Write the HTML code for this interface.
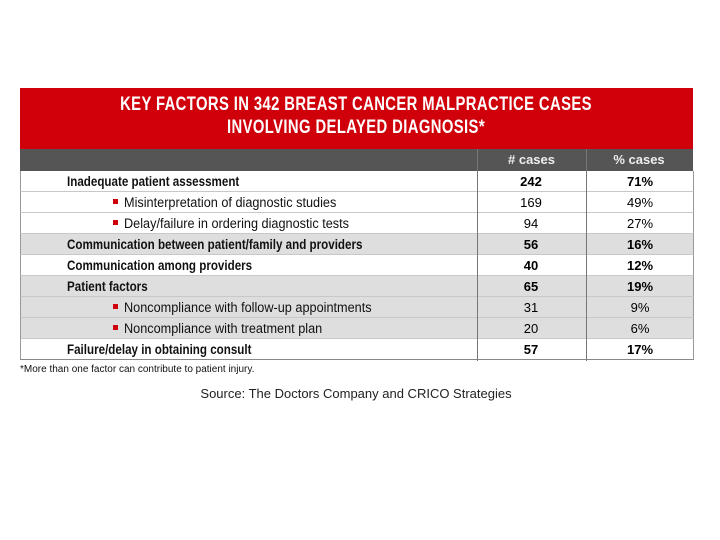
<!DOCTYPE html>
<html><head><style>
body{margin:0;width:720px;height:540px;background:#fff;font-family:"Liberation Sans",sans-serif;position:relative;overflow:hidden}
.a{position:absolute;white-space:nowrap}
#red{left:20px;top:88px;width:673px;height:61px;background:#d0000a}
#gry{left:20px;top:149px;width:673px;height:22px;background:#555}
.t{color:#fff;font-weight:bold;font-size:19px;left:356px;transform:translateX(-50%) scaleX(0.78);letter-spacing:0.5px}
.row{position:absolute;left:20px;width:672px;height:20px;border-bottom:1px solid #c8c8c8;border-left:1px solid #999;border-right:1px solid #999}
.sh{background:#dedede}
.tx{position:absolute;top:3px;font-size:13.5px;color:#111;transform-origin:left center}
.b{font-weight:bold;transform:scaleX(0.86)}
.n{transform:scaleX(0.94)}
.c1{position:absolute;left:455px;width:110px;text-align:center;top:3px;font-size:13px}
.c2{position:absolute;left:566px;width:106px;text-align:center;top:3px;font-size:13px}
.bul{position:absolute;left:92px;top:7px;width:5px;height:5px;background:#d0000a}
.vl{position:absolute;top:149px;height:212px;width:1px;background:#777}
</style></head><body>
<div class="a" id="red"></div>
<div class="a" id="gry"></div>
<div class="a t" style="top:94px">KEY FACTORS IN 342 BREAST CANCER MALPRACTICE CASES</div>
<div class="a t" style="top:117px">INVOLVING DELAYED DIAGNOSIS*</div>
<div class="a" style="left:477px;width:109px;top:152px;text-align:center;color:#eee;font-size:13px;font-weight:bold">#&nbsp;cases</div>
<div class="a" style="left:586px;width:106px;top:152px;text-align:center;color:#eee;font-size:13px;font-weight:bold">%&nbsp;cases</div>

<div class="row" style="top:171px"><span class="tx b" style="left:46px">Inadequate patient assessment</span><span class="c1"><b>242</b></span><span class="c2"><b>71%</b></span></div>
<div class="row" style="top:192px"><div class="bul"></div><span class="tx n" style="left:103px">Misinterpretation of diagnostic studies</span><span class="c1">169</span><span class="c2">49%</span></div>
<div class="row" style="top:213px"><div class="bul"></div><span class="tx n" style="left:103px">Delay/failure in ordering diagnostic tests</span><span class="c1">94</span><span class="c2">27%</span></div>
<div class="row sh" style="top:234px"><span class="tx b" style="left:46px">Communication between patient/family and providers</span><span class="c1"><b>56</b></span><span class="c2"><b>16%</b></span></div>
<div class="row" style="top:255px"><span class="tx b" style="left:46px">Communication among providers</span><span class="c1"><b>40</b></span><span class="c2"><b>12%</b></span></div>
<div class="row sh" style="top:276px"><span class="tx b" style="left:46px">Patient factors</span><span class="c1"><b>65</b></span><span class="c2"><b>19%</b></span></div>
<div class="row sh" style="top:297px"><div class="bul"></div><span class="tx n" style="left:103px">Noncompliance with follow-up appointments</span><span class="c1">31</span><span class="c2">9%</span></div>
<div class="row sh" style="top:318px"><div class="bul"></div><span class="tx n" style="left:103px">Noncompliance with treatment plan</span><span class="c1">20</span><span class="c2">6%</span></div>
<div class="row" style="top:339px;border-bottom:1px solid #888"><span class="tx b" style="left:46px">Failure/delay in obtaining consult</span><span class="c1"><b>57</b></span><span class="c2"><b>17%</b></span></div>
<div class="vl" style="left:477px"></div>
<div class="vl" style="left:586px"></div>

<div class="a" style="left:20px;top:364px;font-size:10px;color:#111">*More than one factor can contribute to patient injury.</div>
<div class="a" style="left:356px;top:386px;transform:translateX(-50%);font-size:13px;color:#222">Source: The Doctors Company and CRICO Strategies</div>
</body></html>
